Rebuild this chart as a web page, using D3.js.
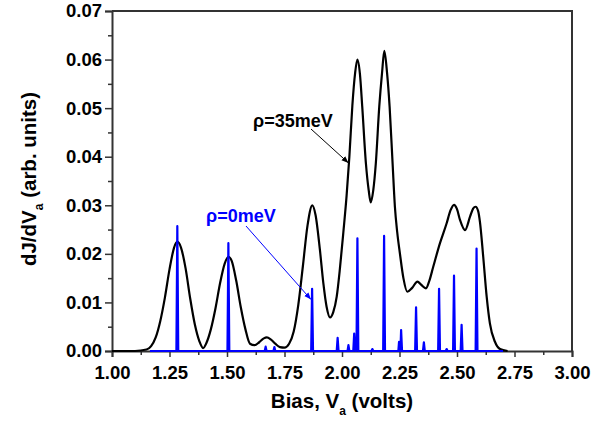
<!DOCTYPE html>
<html>
<head>
<meta charset="utf-8">
<script src="https://cdn.jsdelivr.net/npm/d3@7"></script>
<style>
  html, body { margin: 0; padding: 0; background: #fff; }
  svg { display: block; }
  text { font-family: "Liberation Sans", Arial, Helvetica, sans-serif; font-weight: bold; }
</style>
</head>
<body>
<svg id="chart" width="608" height="424"></svg>
<script>
// ---- data ----
const xTicks = [1.00, 1.25, 1.50, 1.75, 2.00, 2.25, 2.50, 2.75, 3.00];
const xTickLabels = ["1.00", "1.25", "1.50", "1.75", "2.00", "2.25", "2.50", "2.75", "3.00"];
const yTicks = [0.00, 0.01, 0.02, 0.03, 0.04, 0.05, 0.06, 0.07];
const yTickLabels = ["0.00", "0.01", "0.02", "0.03", "0.04", "0.05", "0.06", "0.07"];

// rho = 35 meV (broadened)
const blackV = [1.00, 1.10, 1.15, 1.17, 1.19, 1.21, 1.23, 1.25, 1.27, 1.284, 1.30, 1.32, 1.34, 1.36, 1.38, 1.396,
  1.41, 1.43, 1.45, 1.47, 1.49, 1.506, 1.52, 1.54, 1.56, 1.58, 1.60, 1.62, 1.64, 1.66, 1.673, 1.69, 1.71, 1.73, 1.75,
  1.77, 1.79, 1.81, 1.83, 1.85, 1.871, 1.885, 1.904, 1.919, 1.933, 1.948, 1.962, 1.977, 1.991, 2.006, 2.020,
  2.032, 2.045, 2.057, 2.067, 2.078, 2.088, 2.104, 2.116, 2.125, 2.136, 2.147, 2.162, 2.174, 2.184, 2.196, 2.207,
  2.220, 2.230, 2.240, 2.252, 2.267, 2.284, 2.305, 2.328, 2.345, 2.365, 2.380, 2.397, 2.426, 2.455, 2.472, 2.487,
  2.500, 2.513, 2.535, 2.557, 2.570, 2.581, 2.592, 2.600, 2.614, 2.629, 2.643, 2.665, 2.687, 2.72];
const blackY = [0, 0, 0.0003, 0.0010, 0.0028, 0.0062, 0.0110, 0.0168, 0.0213, 0.0225, 0.0213, 0.0170, 0.0108, 0.0055, 0.0020, 0.0006,
  0.0016, 0.0045, 0.0088, 0.0140, 0.0180, 0.0194, 0.0186, 0.0145, 0.0090, 0.0045, 0.0015, 0.0012, 0.0018, 0.0026, 0.0028, 0.0024, 0.0015, 0.0008, 0.0007,
  0.0015, 0.0040, 0.0095, 0.0175, 0.0258, 0.0300, 0.0280, 0.0208, 0.0139, 0.0091, 0.0069, 0.0080, 0.0112, 0.0170, 0.0245, 0.0320,
  0.0400, 0.0505, 0.0572, 0.0600, 0.0570, 0.0503, 0.0386, 0.0331, 0.0306, 0.0331, 0.0386, 0.0503, 0.0572, 0.0618, 0.0572, 0.0503,
  0.0386, 0.0297, 0.0245, 0.0200, 0.0150, 0.0122, 0.0130, 0.0143, 0.0136, 0.0129, 0.0145, 0.0174, 0.0222, 0.0263, 0.0290, 0.0301,
  0.0292, 0.0270, 0.0249, 0.0277, 0.0293, 0.0297, 0.0288, 0.0265, 0.0194, 0.0112, 0.0057, 0.0019, 0.0004, 0];

// rho = 0 meV (sharp resonances)
const blueV = [1.165,
  1.280, 1.284, 1.288,
  1.502, 1.506, 1.510,
  1.664, 1.668, 1.672,
  1.702, 1.706, 1.710,
  1.866, 1.870, 1.874,
  1.977, 1.981, 1.985,
  2.024, 2.028, 2.032,
  2.049, 2.053, 2.057,
  2.063, 2.067, 2.071,
  2.128, 2.132, 2.136,
  2.179, 2.183, 2.187,
  2.245, 2.248, 2.251,
  2.254, 2.257, 2.261,
  2.318, 2.322, 2.326,
  2.352, 2.356, 2.360,
  2.418, 2.422, 2.426,
  2.451, 2.455, 2.459,
  2.483, 2.487, 2.491,
  2.516, 2.520, 2.524,
  2.581, 2.585, 2.589,
  2.700];
const blueY = [0,
  0, 0.0257, 0,
  0, 0.0222, 0,
  0, 0.0009, 0,
  0, 0.0008, 0,
  0, 0.0128, 0,
  0, 0.0027, 0,
  0, 0.0012, 0,
  0, 0.0036, 0,
  0, 0.0232, 0,
  0, 0.0004, 0,
  0, 0.0237, 0,
  0, 0.0019, 0,
  0, 0.0043, 0,
  0, 0.0090, 0,
  0, 0.0018, 0,
  0, 0.0128, 0,
  0, 0.0004, 0,
  0, 0.0155, 0,
  0, 0.0054, 0,
  0, 0.0211, 0,
  0];

const labelBlack = "ρ=35meV";
const labelBlue = "ρ=0meV";

// ---- layout ----
const svg = d3.select("#chart");
const m = { left: 112, right: 572, top: 11, bottom: 351 };
const x = d3.scaleLinear().domain([1.0, 3.0]).range([m.left, m.right]);
const y = d3.scaleLinear().domain([0, 0.07]).range([m.bottom, m.top]);
const axisColor = "#333";

// frame (top and right)
svg.append("path")
  .attr("d", `M${m.left},${m.top}H${m.right}V${m.bottom}`)
  .attr("fill", "none").attr("stroke", axisColor).attr("stroke-width", 2);

// x axis
const xMinor = d3.range(1.125, 3.0, 0.25);
const gx = svg.append("g").attr("transform", `translate(0,${m.bottom})`);
gx.append("g").call(d3.axisBottom(x).tickValues(xMinor).tickSize(4).tickFormat(""))
  .call(g => g.select(".domain").remove())
  .call(g => g.selectAll("line").attr("stroke", axisColor).attr("stroke-width", 1.5));
gx.append("g").call(d3.axisBottom(x).tickValues(xTicks).tickSize(6).tickPadding(9)
    .tickFormat((d, i) => xTickLabels[i]))
  .call(g => g.select(".domain").attr("stroke", axisColor).attr("stroke-width", 2))
  .call(g => g.selectAll("line").attr("stroke", axisColor).attr("stroke-width", 1.5))
  .call(g => g.selectAll("text").attr("fill", "#000").style("font-size", "18.5px")
    .style("font-family", '"Liberation Sans", Arial, sans-serif').style("font-weight", "bold"));

// y axis
const yMinor = d3.range(0.005, 0.07, 0.01);
const gy = svg.append("g").attr("transform", `translate(${m.left},0)`);
gy.append("g").call(d3.axisLeft(y).tickValues(yMinor).tickSize(4).tickFormat(""))
  .call(g => g.select(".domain").remove())
  .call(g => g.selectAll("line").attr("stroke", axisColor).attr("stroke-width", 1.5));
gy.append("g").call(d3.axisLeft(y).tickValues(yTicks).tickSize(7).tickPadding(3)
    .tickFormat((d, i) => yTickLabels[i]))
  .call(g => g.select(".domain").attr("stroke", axisColor).attr("stroke-width", 2))
  .call(g => g.selectAll("line").attr("stroke", axisColor).attr("stroke-width", 1.5))
  .call(g => g.selectAll("text").attr("fill", "#000").style("font-size", "18.5px")
    .style("font-family", '"Liberation Sans", Arial, sans-serif').style("font-weight", "bold"));

// curves
const blackData = blackV.map((v, i) => [v, blackY[i]]);
const blueData = blueV.map((v, i) => [v, blueY[i]]);

svg.append("path").datum(blackData)
  .attr("d", d3.line().x(d => x(d[0])).y(d => y(d[1])).curve(d3.curveMonotoneX))
  .attr("fill", "none").attr("stroke", "#000").attr("stroke-width", 2.2).attr("stroke-linejoin", "round");

svg.append("path").datum(blueData)
  .attr("d", d3.line().x(d => x(d[0])).y(d => y(d[1])))
  .attr("fill", "none").attr("stroke", "#0000ff").attr("stroke-width", 2.2).attr("stroke-linejoin", "round");

// annotations
const defs = svg.append("defs");
function marker(id, color) {
  defs.append("marker").attr("id", id).attr("viewBox", "0 0 10 10")
    .attr("refX", 10).attr("refY", 5).attr("markerWidth", 7).attr("markerHeight", 7)
    .attr("orient", "auto").attr("markerUnits", "userSpaceOnUse")
    .append("path").attr("d", "M0,1L10,5L0,9Z").attr("fill", color);
}
marker("arrB", "#000");
marker("arrU", "#0000ff");

svg.append("text").attr("x", 253).attr("y", 127).attr("fill", "#000")
  .style("font-size", "18px").text(labelBlack);
svg.append("line").attr("x1", 311).attr("y1", 129).attr("x2", 348.5).attr("y2", 163)
  .attr("stroke", "#000").attr("stroke-width", 1).attr("marker-end", "url(#arrB)");

svg.append("text").attr("x", 206).attr("y", 222).attr("fill", "#0000ff")
  .style("font-size", "18px").text(labelBlue);
svg.append("line").attr("x1", 246).attr("y1", 226).attr("x2", 311).attr("y2", 299.5)
  .attr("stroke", "#0000ff").attr("stroke-width", 1).attr("marker-end", "url(#arrU)");

// axis titles
const xt = svg.append("text").attr("x", 342).attr("y", 408).attr("text-anchor", "middle")
  .attr("fill", "#000").style("font-size", "20.5px");
xt.append("tspan").text("Bias, V");
xt.append("tspan").attr("dy", 7).style("font-size", "12px").text("a");
xt.append("tspan").attr("dy", -7).text(" (volts)");

const yt = svg.append("text").attr("transform", "translate(36,179) rotate(-90)")
  .attr("text-anchor", "middle").attr("fill", "#000").style("font-size", "20.5px");
yt.append("tspan").text("dJ/dV");
yt.append("tspan").attr("dy", 7).style("font-size", "12px").text("a");
yt.append("tspan").attr("dy", -7).text(" (arb. units)");
</script>
</body>
</html>
